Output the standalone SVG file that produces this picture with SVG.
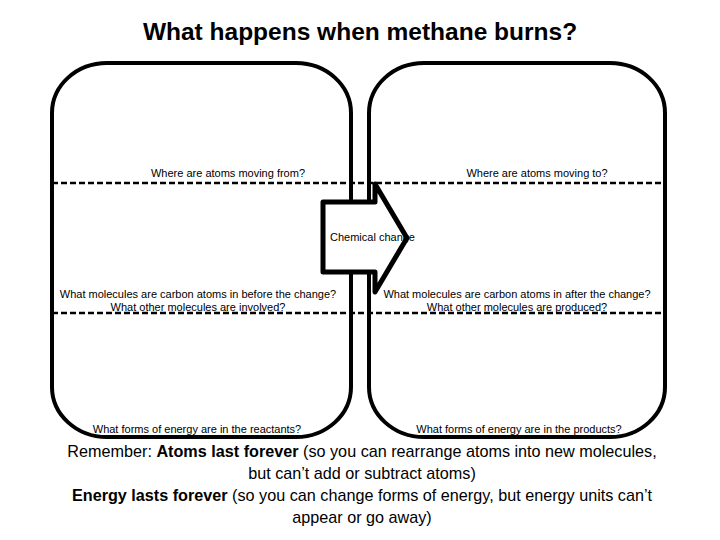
<svg xmlns="http://www.w3.org/2000/svg" width="720" height="540" viewBox="0 0 720 540">
<style>
.box{fill:none;stroke:#000;stroke-width:4}
.dash{stroke:#000;stroke-width:2.5;stroke-dasharray:6 3;fill:none}
.s{font-family:"Liberation Sans",Arial,sans-serif;font-size:11px;fill:#000;text-anchor:middle}
.b{font-family:"Liberation Sans",Arial,sans-serif;font-size:16.2px;fill:#000;text-anchor:middle}
.t{font-family:"Liberation Sans",Arial,sans-serif;font-size:24.5px;font-weight:bold;fill:#000;text-anchor:middle}
</style>
<rect width="720" height="540" fill="#fff"/>
<text class="t" x="360" y="40">What happens when methane burns?</text>
<g id="left-box">
<rect class="box" x="52" y="63" width="299" height="374" rx="55" ry="50"/>
</g>
<g id="right-box">
<rect class="box" x="369" y="63" width="296" height="374" rx="55" ry="50"/>
</g>
<g id="connectors">
<line class="dash" x1="52" y1="183" x2="665" y2="183"/>
<line class="dash" x1="52" y1="313" x2="665" y2="313"/>
</g>
<g id="arrow">
<path d="M323,202 L375,202 L375,184 L407,238 L375,292 L375,272 L323,272 Z" fill="#fff"/>
<text class="s" x="330" y="241" style="text-anchor:start">Chemical change</text>
<path d="M323,202 L375,202 L375,184 L407,238 L375,292 L375,272 L323,272 Z" fill="none" stroke="#000" stroke-width="5" stroke-linejoin="round"/>
</g>
<g id="labels">
<text class="s" x="228" y="177">Where are atoms moving from?</text>
<text class="s" x="537" y="177">Where are atoms moving to?</text>
<text class="s" x="198" y="298">What molecules are carbon atoms in before the change?</text>
<text class="s" x="198" y="311">What other molecules are involved?</text>
<text class="s" x="517" y="298">What molecules are carbon atoms in after the change?</text>
<text class="s" x="517" y="311">What other molecules are produced?</text>
<text class="s" x="197" y="433">What forms of energy are in the reactants?</text>
<text class="s" x="519" y="433">What forms of energy are in the products?</text>
</g>
<g id="note">
<text class="b" x="362" y="457">Remember: <tspan font-weight="bold">Atoms last forever</tspan> (so you can rearrange atoms into new molecules,</text>
<text class="b" x="362" y="479">but can’t add or subtract atoms)</text>
<text class="b" x="362" y="501"><tspan font-weight="bold">Energy lasts forever</tspan> (so you can change forms of energy, but energy units can’t</text>
<text class="b" x="362" y="523">appear or go away)</text>
</g>
</svg>
